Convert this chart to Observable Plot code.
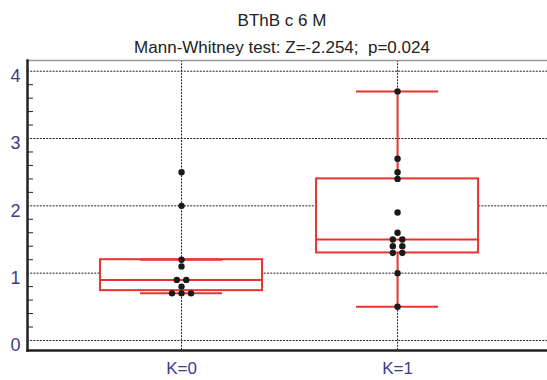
<!DOCTYPE html>
<html>
<head>
<meta charset="utf-8">
<script src="https://cdn.jsdelivr.net/npm/d3@7"></script>
<script src="https://cdn.jsdelivr.net/npm/@observablehq/plot@0.6"></script>
<style>
  body { margin: 0; background: #fff; }
  #wrap { position: relative; width: 547px; height: 380px; font-family: "Liberation Sans", Arial, sans-serif; }
  .ttl { position: absolute; left: 17px; width: 530px; text-align: center; font-size: 17px; line-height: 20px; color: #222; white-space: pre; }
  #chart { position: absolute; left: 0; top: 0; }
</style>
</head>
<body>
<div id="wrap">
  <div id="chart"></div>
  <div class="ttl" id="t1" style="top:11px"></div>
  <div class="ttl" id="t2" style="top:38px"></div>
</div>
<script>
const titleText = "BThB c 6 M";
const subtitleText = "Mann-Whitney test: Z=-2.254;  p=0.024";
const categories = ["K=0", "K=1"];
const valuesK0 = [2.5, 2.0, 1.2, 1.1, 0.9, 0.9, 0.8, 0.7, 0.7, 0.7];
const valuesK1 = [3.7, 2.7, 2.5, 2.4, 1.9, 1.6, 1.5, 1.5, 1.4, 1.4, 1.3, 1.3, 1.0, 0.5];
const boxQ1 = [0.74, 1.3];
const boxMedian = [0.9, 1.5];
const boxQ3 = [1.2, 2.4];
const whiskerLow = [0.7, 0.5];
const whiskerHigh = [1.2, 3.7];
const yTicks = [0, 1, 2, 3, 4];

document.getElementById("t1").textContent = titleText;
document.getElementById("t2").textContent = subtitleText;

// layout constants (in x-scale units)
const boxHalf = 0.375;
const capHalf = 0.19;
const dotStep = 0.044;
const red = "#e8332e";
const blue = "#3b3b8c";

const stats = categories.map((c, i) => ({
  i, q1: boxQ1[i], med: boxMedian[i], q3: boxQ3[i], lo: whiskerLow[i], hi: whiskerHigh[i]
}));

const dots = [];
[valuesK0, valuesK1].forEach((vals, i) => {
  const groups = d3.group(vals, v => v);
  for (const [v, arr] of groups) {
    arr.forEach((_, j) => dots.push({x: i + (j - (arr.length - 1) / 2) * dotStep, y: v}));
  }
});

const minorTicks = d3.range(0, 4.001, 0.2).map(v => +v.toFixed(1)).filter(v => !Number.isInteger(v));

const chart = Plot.plot({
  width: 547,
  height: 380,
  marginTop: 60,
  marginBottom: 30,
  marginLeft: 27,
  marginRight: 0,
  style: {fontFamily: "'Liberation Sans', Arial, sans-serif", background: "transparent"},
  x: {type: "linear", domain: [-0.713, 1.694], axis: null},
  y: {domain: [-0.149, 4.159], axis: null},
  marks: [
    Plot.ruleY(yTicks, {stroke: "#222", strokeDasharray: "2,1.2"}),
    Plot.ruleX([0, 1], {stroke: "#222", strokeDasharray: "2,1.2"}),
    Plot.frame({anchor: "top", stroke: "#999", strokeWidth: 1.5}),
    Plot.rect(stats, {x1: d => d.i - boxHalf, x2: d => d.i + boxHalf, y1: "q1", y2: "q3", fill: "white", stroke: red, strokeWidth: 2}),
    Plot.ruleX(stats, {x: "i", y1: "lo", y2: "q1", stroke: red, strokeWidth: 2}),
    Plot.ruleX(stats, {x: "i", y1: "q3", y2: "hi", stroke: red, strokeWidth: 2}),
    Plot.ruleY(stats, {y: "lo", x1: d => d.i - capHalf, x2: d => d.i + capHalf, stroke: red, strokeWidth: 2}),
    Plot.ruleY(stats, {y: "hi", x1: d => d.i - capHalf, x2: d => d.i + capHalf, stroke: red, strokeWidth: 2}),
    Plot.ruleY(stats, {y: "med", x1: d => d.i - boxHalf, x2: d => d.i + boxHalf, stroke: red, strokeWidth: 2}),
    Plot.dot(dots, {x: "x", y: "y", r: 3.2, fill: "#1a1a1a", stroke: null}),
    Plot.frame({anchor: "left", stroke: "#222", strokeWidth: 2.5}),
    Plot.frame({anchor: "bottom", stroke: "#222", strokeWidth: 2.5}),
    Plot.axisY(minorTicks, {tickSize: -6, tickFormat: () => "", stroke: "#222", label: null}),
    Plot.axisY(yTicks, {tickSize: 0, tickPadding: 7, tickFormat: d => String(d), fontSize: 18, fill: blue, dy: 5, label: null}),
    Plot.axisX([0, 1], {tickSize: 0, tickPadding: 11, tickFormat: i => categories[i], fontSize: 17, fill: blue, label: null})
  ]
});
document.getElementById("chart").appendChild(chart);
</script>
</body>
</html>
